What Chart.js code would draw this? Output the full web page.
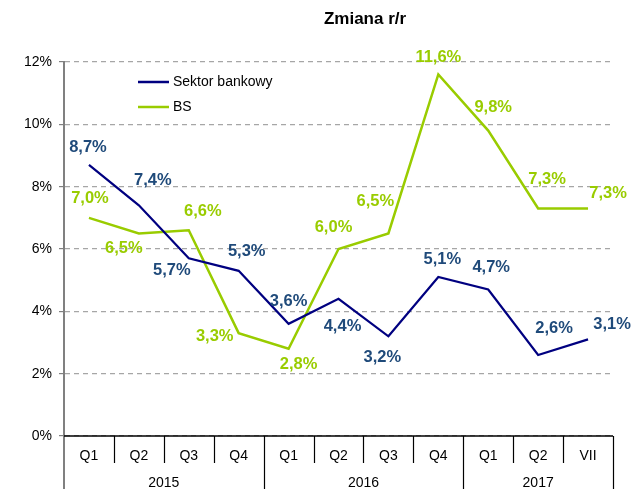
<!DOCTYPE html>
<html>
<head>
<meta charset="utf-8">
<script src="https://cdn.jsdelivr.net/npm/chart.js@4/dist/chart.umd.min.js"></script>
<style>
  html, body { margin: 0; padding: 0; background: #fff; }
  canvas { display: block; }
</style>
</head>
<body>
<canvas id="chart" width="643" height="489"></canvas>
<script>
"use strict";

// Categories (quarters) and year groups
const quarterLabels = ["Q1", "Q2", "Q3", "Q4", "Q1", "Q2", "Q3", "Q4", "Q1", "Q2", "VII"];
const yearLabels = ["2015", "2016", "2017"];
const yearSpans = [4, 4, 3];

// Series values (%)
const bankValues = [8.7, 7.4, 5.7, 5.3, 3.6, 4.4, 3.2, 5.1, 4.7, 2.6, 3.1];
const bsValues = [7.0, 6.5, 6.6, 3.3, 2.8, 6.0, 6.5, 11.6, 9.8, 7.3, 7.3];

// Y axis ticks
const yTicks = [0, 2, 4, 6, 8, 10, 12];

// Value label offsets from each point (px)
const bankLabelOffsets = [
  [-1, -17], [14, -25], [-17, 12], [8, -19], [0, -22], [4, 28],
  [-6, 21], [4, -18], [3, -22], [16, -27], [24, -15],
];
const bsLabelOffsets = [
  [1, -19], [-15, 15], [14, -19], [-24, 3], [10, 16], [-5, -22],
  [-13, -32], [0, -17], [5, -23], [9, -29], [20, -15],
];

const BANK_COLOR = "#000080";
const BANK_LABEL_COLOR = "#1F4A7A";
const BS_COLOR = "#99CC00";
const FONT = "'Liberation Sans', Arial, sans-serif";

const fmt = (v) => v.toFixed(1).replace(".", ",") + "%";

/**
 * Draws title, legend, value labels and the grouped x axis.
 */
const decorPlugin = {
  id: "decor",
  afterDraw(chart) {
    const ctx = chart.ctx;
    const area = chart.chartArea;
    const xScale = chart.scales.x;
    const n = quarterLabels.length;
    const step = (area.right - area.left) / n;
    const bottom = chart.height;

    ctx.save();

    // Title
    ctx.fillStyle = "#000";
    ctx.font = "bold 17px " + FONT;
    ctx.textAlign = "center";
    ctx.textBaseline = "middle";
    ctx.fillText("Zmiana r/r", 365, 19);

    // Y axis extension below the plot
    ctx.strokeStyle = "#808080";
    ctx.lineWidth = 2;
    ctx.beginPath();
    ctx.moveTo(area.left, area.bottom);
    ctx.lineTo(area.left, bottom);
    ctx.stroke();

    // X axis line
    ctx.strokeStyle = "#000";
    ctx.lineWidth = 1.5;
    ctx.beginPath();
    ctx.moveTo(area.left, area.bottom);
    ctx.lineTo(area.right, area.bottom);
    ctx.stroke();

    // Separators between categories; longer at year boundaries
    const yearEnds = [];
    let acc = 0;
    yearSpans.forEach((s) => { acc += s; yearEnds.push(acc); });
    ctx.lineWidth = 1.2;
    for (let i = 1; i <= n; i++) {
      const x = Math.round(area.left + i * step) + 0.5;
      const yEnd = yearEnds.includes(i) ? bottom : area.bottom + 27;
      ctx.beginPath();
      ctx.moveTo(x, area.bottom);
      ctx.lineTo(x, yEnd);
      ctx.stroke();
    }

    // Quarter labels
    ctx.font = "14px " + FONT;
    ctx.fillStyle = "#000";
    quarterLabels.forEach((lab, i) => {
      ctx.fillText(lab, xScale.getPixelForValue(i), area.bottom + 20);
    });

    // Year labels
    let start = 0;
    yearLabels.forEach((lab, i) => {
      const x0 = xScale.getPixelForValue(start) - step / 2;
      const x1 = xScale.getPixelForValue(start + yearSpans[i] - 1) + step / 2;
      ctx.fillText(lab, (x0 + x1) / 2, area.bottom + 47);
      start += yearSpans[i];
    });

    // Legend
    const legendItems = [
      { text: "Sektor bankowy", color: BANK_COLOR, y: 82 },
      { text: "BS", color: BS_COLOR, y: 107 },
    ];
    ctx.textAlign = "left";
    legendItems.forEach((item) => {
      ctx.strokeStyle = item.color;
      ctx.lineWidth = 2.5;
      ctx.beginPath();
      ctx.moveTo(138, item.y);
      ctx.lineTo(169, item.y);
      ctx.stroke();
      ctx.fillStyle = "#000";
      ctx.fillText(item.text, 173, item.y);
    });

    // Value labels
    ctx.font = "bold 16.5px " + FONT;
    ctx.textAlign = "center";
    const series = [
      { idx: 0, values: bankValues, offsets: bankLabelOffsets, color: BANK_LABEL_COLOR },
      { idx: 1, values: bsValues, offsets: bsLabelOffsets, color: BS_COLOR },
    ];
    series.forEach((s) => {
      const meta = chart.getDatasetMeta(s.idx);
      ctx.fillStyle = s.color;
      meta.data.forEach((pt, i) => {
        const [dx, dy] = s.offsets[i];
        ctx.fillText(fmt(s.values[i]), pt.x + dx, pt.y + dy);
      });
    });

    ctx.restore();
  },
};

new Chart(document.getElementById("chart").getContext("2d"), {
  type: "line",
  data: {
    labels: quarterLabels,
    datasets: [
      {
        label: "Sektor bankowy",
        data: bankValues,
        borderColor: BANK_COLOR,
        borderWidth: 2.2,
        pointRadius: 0,
        tension: 0,
        fill: false,
      },
      {
        label: "BS",
        data: bsValues,
        borderColor: BS_COLOR,
        borderWidth: 2.5,
        pointRadius: 0,
        tension: 0,
        fill: false,
      },
    ],
  },
  options: {
    responsive: false,
    animation: false,
    layout: { padding: { top: 62, right: 30, left: 0, bottom: 0 } },
    plugins: {
      legend: { display: false },
      tooltip: { enabled: false },
      title: { display: false },
    },
    scales: {
      x: {
        type: "category",
        offset: true,
        grid: { display: false },
        border: { display: false },
        ticks: { display: false },
        afterFit: (scale) => { scale.height = 53; },
      },
      y: {
        min: 0,
        max: 12,
        afterBuildTicks: (scale) => {
          scale.ticks = yTicks.map((v) => ({ value: v }));
        },
        ticks: {
          callback: (v) => v + "%",
          color: "#000",
          padding: 7,
          font: { family: FONT, size: 14 },
        },
        grid: {
          color: "#A6A6A6",
          lineWidth: 1.2,
          tickLength: 5,
          tickColor: "#808080",
          tickBorderDash: [],
        },
        border: { color: "#808080", width: 2, dash: [5, 4] },
        afterFit: (scale) => { scale.width = 64; },
      },
    },
  },
  plugins: [decorPlugin],
});
</script>
</body>
</html>
